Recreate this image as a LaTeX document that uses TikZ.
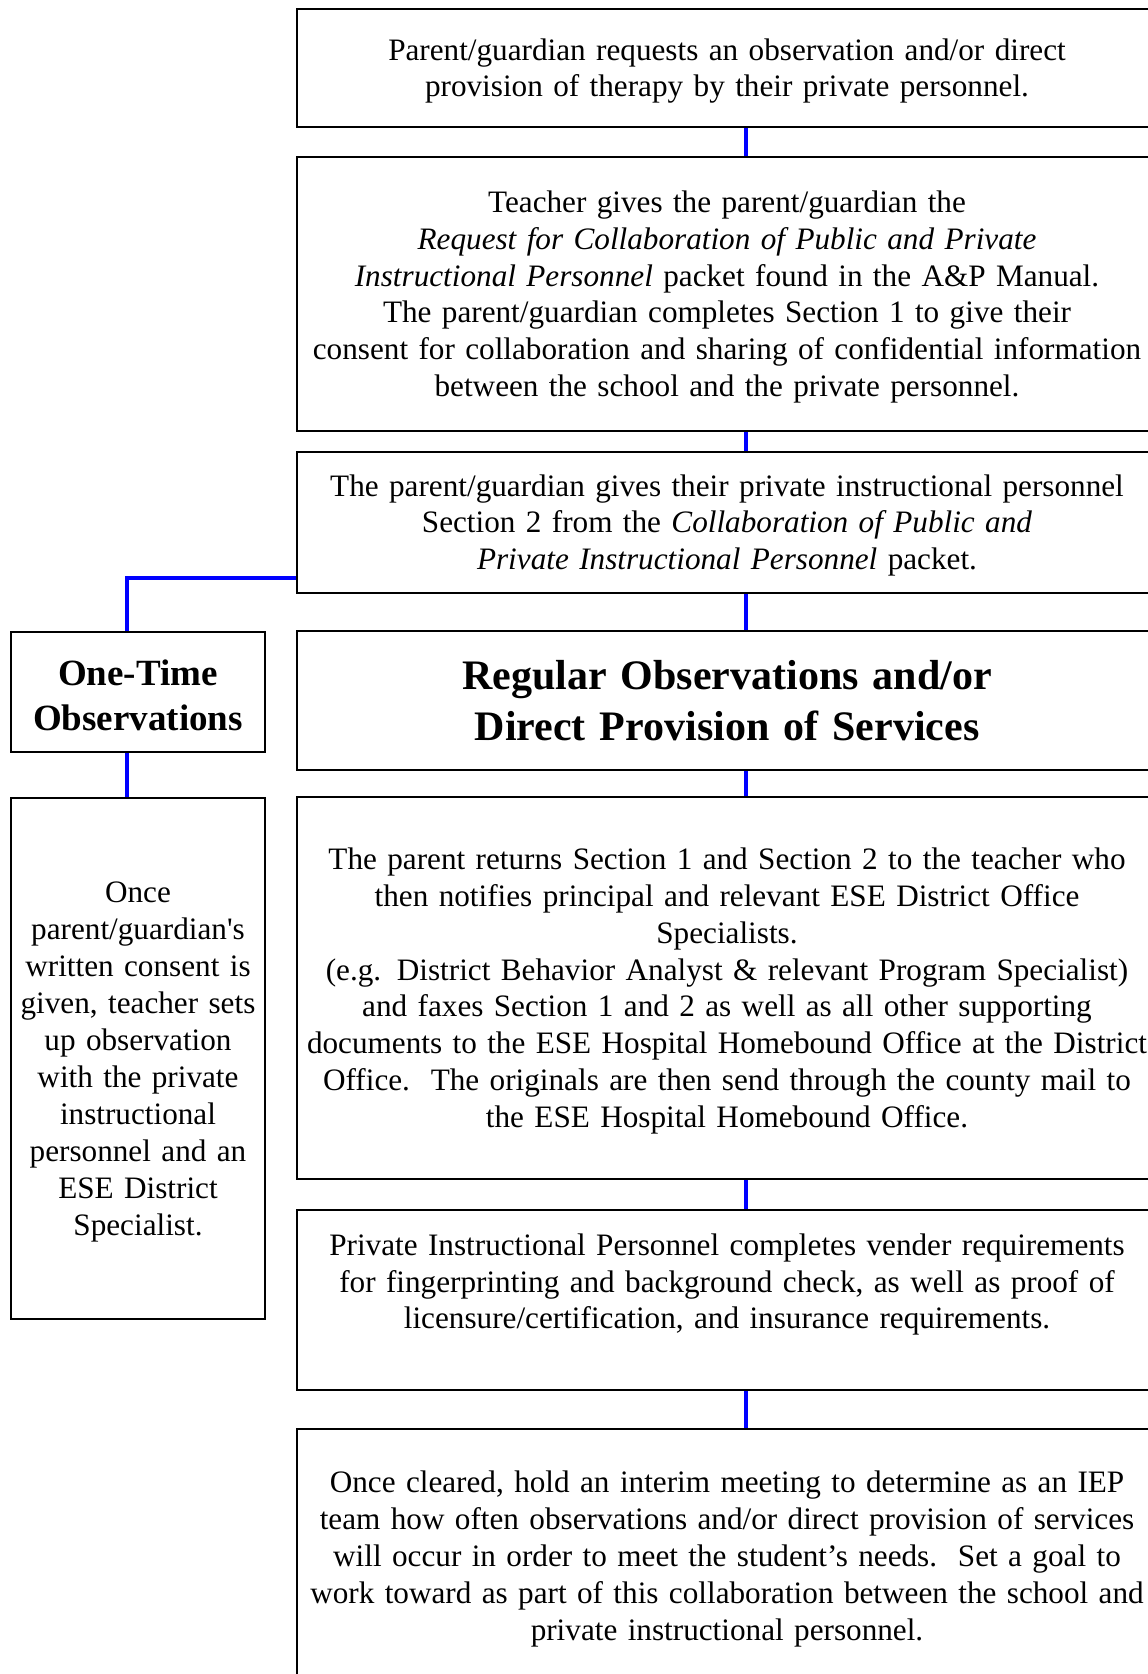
\documentclass[tikz,border=0pt]{standalone}
\usepackage{fontspec}
\setmainfont{Liberation Serif}
\usetikzlibrary{calc, positioning}

\tikzset{
    boxtext/.style={font=\fontsize{31.2}{36.9}\selectfont,
        execute at begin node={\rule{0pt}{0.89em}},
        execute at end node={\rule[-0.22em]{0pt}{0.22em}}},
    stepbox/.style={draw, line width=2pt, inner sep=0pt, align=center,
        text width=850pt, minimum width=860pt, boxtext},
    sidebox/.style={draw, line width=2pt, inner sep=0pt, align=center,
        text width=250pt, minimum width=254pt, boxtext},
    link/.style={blue, line width=4.5pt},
}

\begin{document}
\begin{tikzpicture}[x=1pt, y=-1pt]
    \clip (0,0) rectangle (1148,1674);
    \fill[white] (0,0) rectangle (1148,1674);

    % main column
    \node[stepbox, minimum height=118pt] (request) at (727,68)
        {Parent/guardian requests an observation and/or direct\\
         provision of therapy by their private personnel.};
    \node[stepbox, minimum height=274pt] (packet) at (727,294)
        {Teacher gives the parent/guardian the\\
         \textit{Request for Collaboration of Public and Private}\\
         \textit{Instructional Personnel} packet found in the A\&P Manual.\\
         The parent/guardian completes Section 1 to give their\\
         consent for collaboration and sharing of confidential information\\
         between the school and the private personnel.};
    \node[stepbox, minimum height=141pt] (section) at (727,522.5)
        {The parent/guardian gives their private instructional personnel\\
         Section 2 from the \textit{Collaboration of Public and}\\
         \textit{Private Instructional Personnel} packet.};
    \node[stepbox, minimum height=139pt, font=\fontsize{42}{51}\selectfont\bfseries]
        (regular) at (727,700.5)
        {Regular Observations and/or\\ Direct Provision of Services};
    \node[stepbox, minimum height=382pt] (returns) at (727,988)
        {The parent returns Section 1 and Section 2 to the teacher who\\
         then notifies principal and relevant ESE District Office\\
         Specialists.\\
         (e.g. District Behavior Analyst \& relevant Program Specialist)\\
         and faxes Section 1 and 2 as well as all other supporting\\
         documents to the ESE Hospital Homebound Office at the District\\
         Office.\ \ The originals are then send through the county mail to\\
         the ESE Hospital Homebound Office.};
    \node[stepbox, minimum height=180pt] (vendor) at (727,1300)
        {Private Instructional Personnel completes vender requirements\\
         for fingerprinting and background check, as well as proof of\\
         licensure/certification, and insurance requirements.\\
         \mbox{}};
    \node[stepbox, minimum height=254pt] (meeting) at (727,1556)
        {Once cleared, hold an interim meeting to determine as an IEP\\
         team how often observations and/or direct provision of services\\
         will occur in order to meet the student’s needs.\ \ Set a goal to\\
         work toward as part of this collaboration between the school and\\
         private instructional personnel.};

    % side column
    \node[sidebox, minimum height=120pt, font=\fontsize{37}{45}\selectfont\bfseries,
        execute at begin node={\rule{0pt}{1.06em}}]
        (onetime) at (138,692)
        {One-Time\\ Observations};
    \node[sidebox, minimum height=521pt] (consent) at (138,1058.5)
        {Once\\ parent/guardian\textquotesingle s\\ written consent is\\ given, teacher sets\\
         up observation\\ with the private\\ instructional\\ personnel and an\\
         ESE District\\ Specialist.};

    % connectors
    \coordinate (spine) at (746,0);
    \coordinate (side) at (127,0);
    \draw[link] (request.south -| spine) -- (packet.north -| spine);
    \draw[link] (packet.south -| spine) -- (section.north -| spine);
    \draw[link] (section.south -| spine) -- (regular.north -| spine);
    \draw[link] (regular.south -| spine) -- (returns.north -| spine);
    \draw[link] (returns.south -| spine) -- (vendor.north -| spine);
    \draw[link] (vendor.south -| spine) -- (meeting.north -| spine);
    \draw[link] ($(section.west)+(0,55.5)$) -| (onetime.north -| side);
    \draw[link] (onetime.south -| side) -- (consent.north -| side);
\end{tikzpicture}
\end{document}
